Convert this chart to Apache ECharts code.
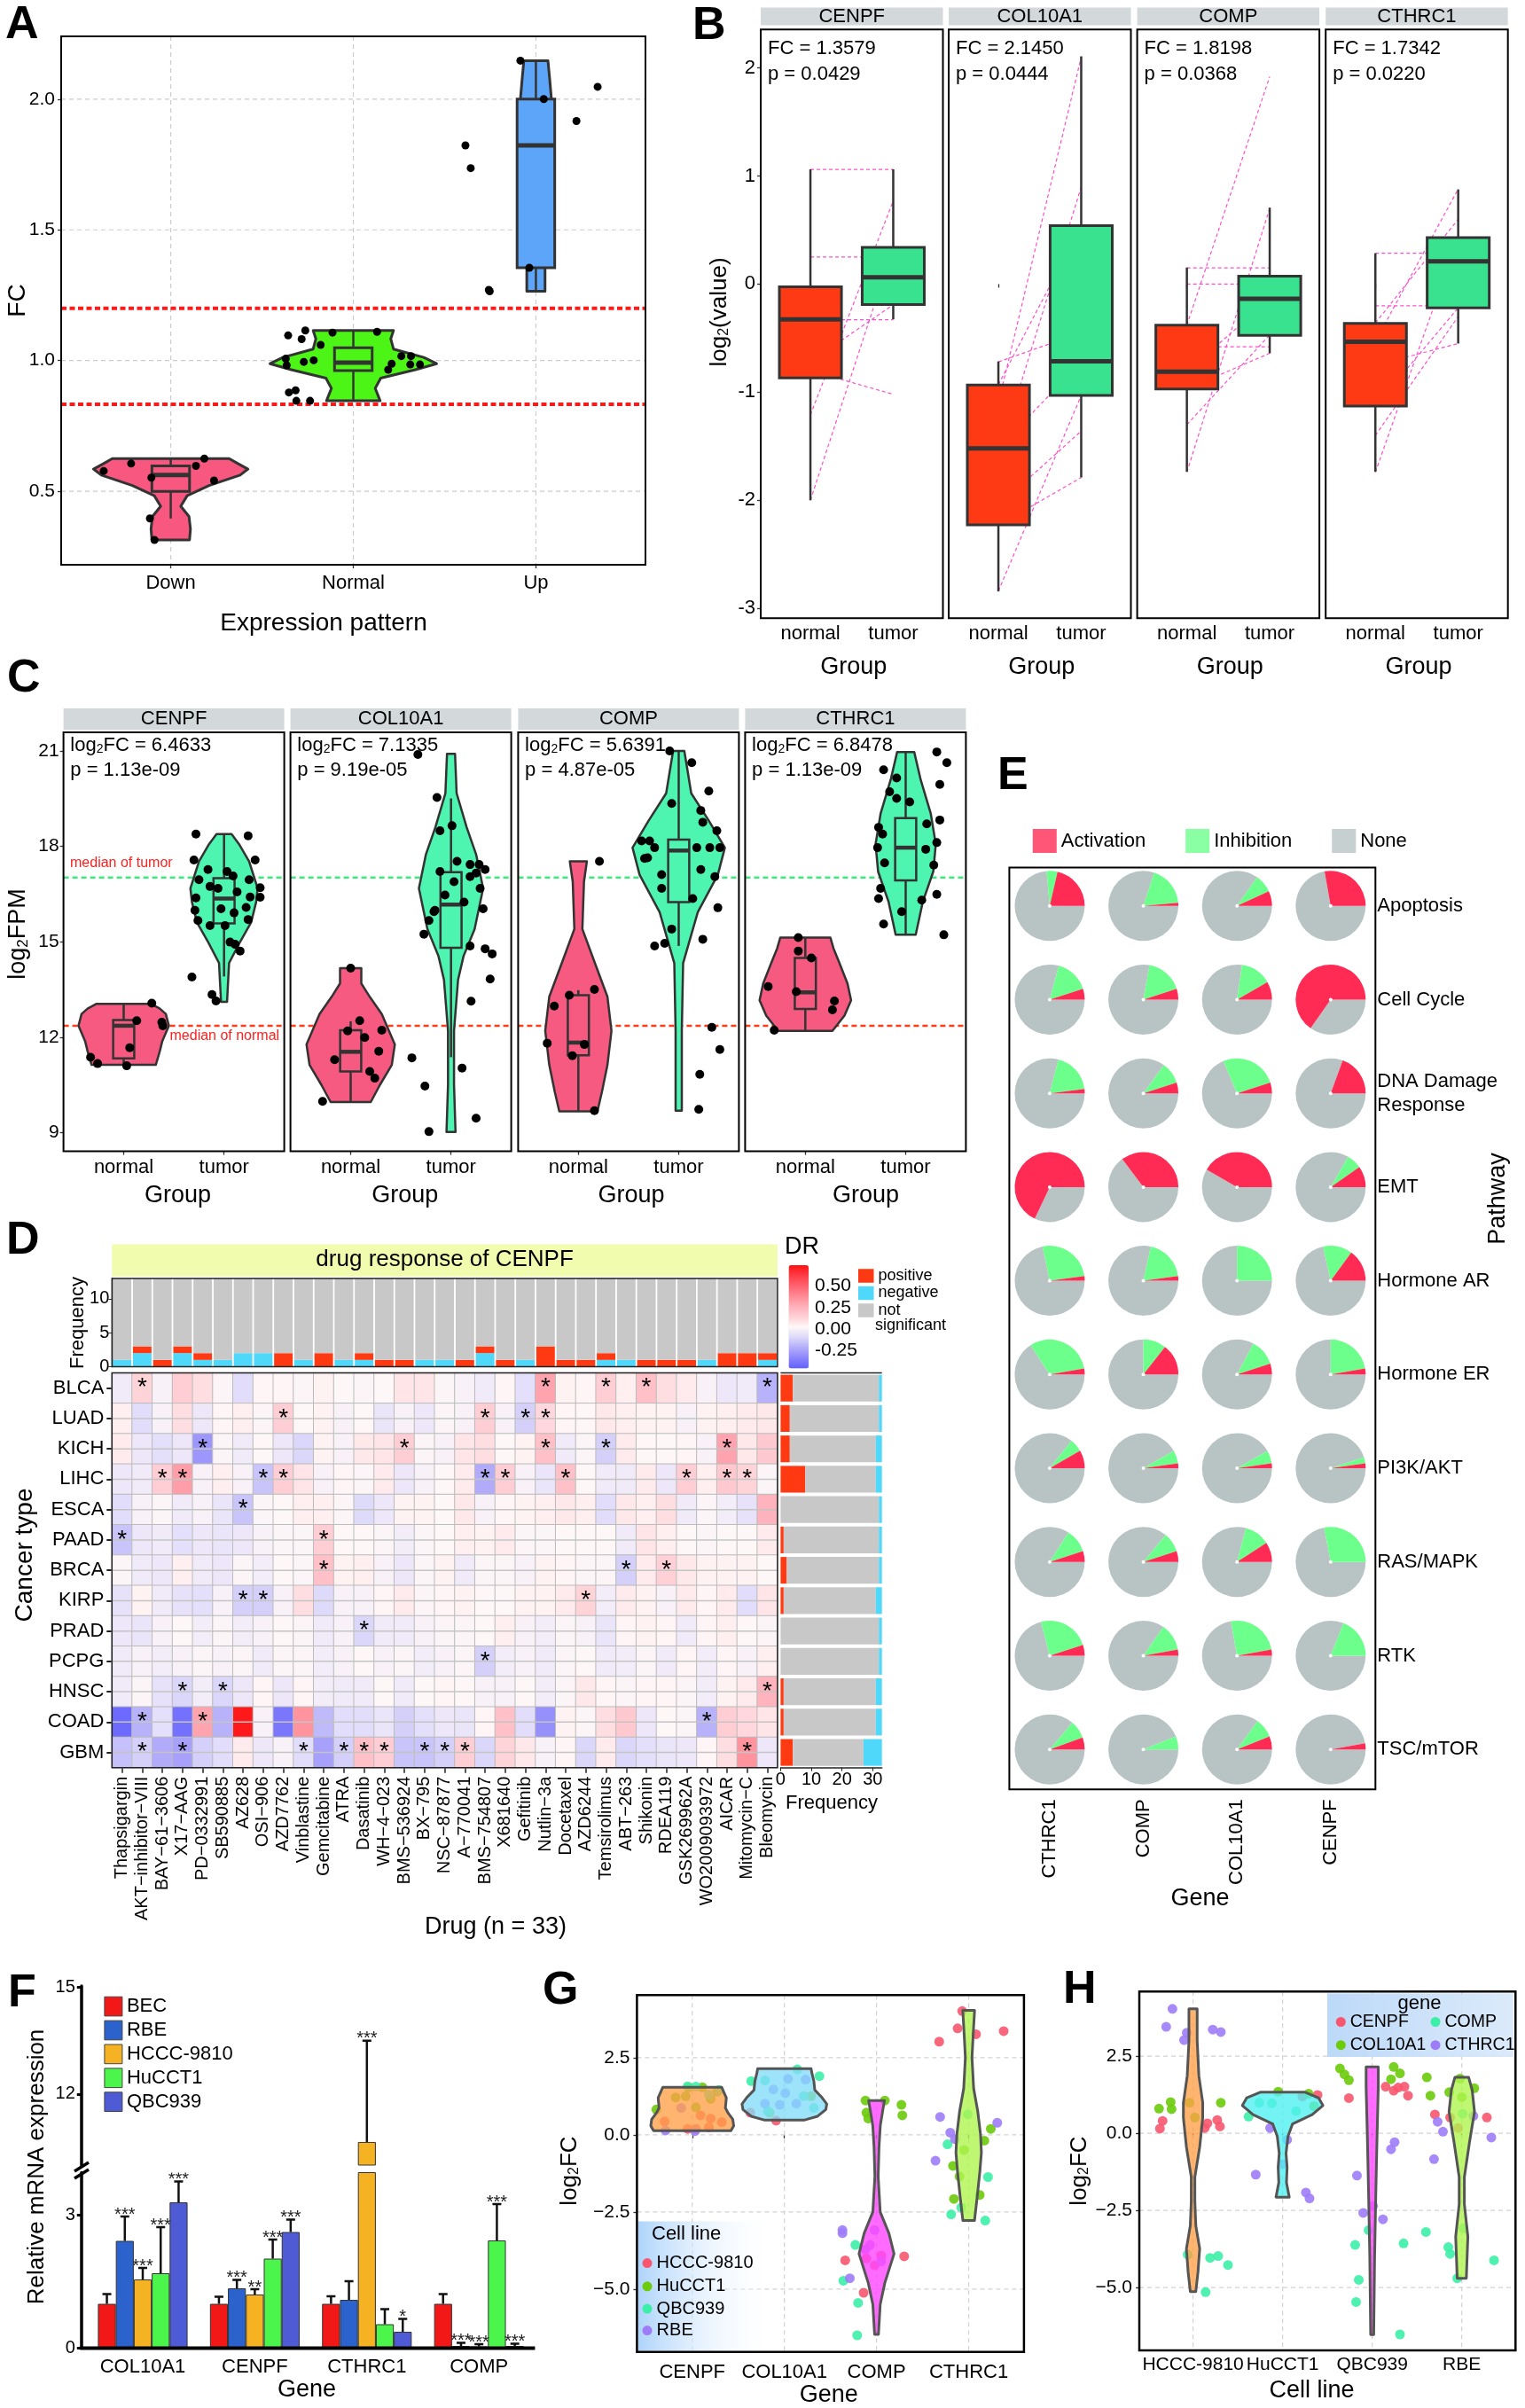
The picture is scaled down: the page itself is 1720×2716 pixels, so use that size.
<!DOCTYPE html>
<html><head><meta charset="utf-8">
<script src="https://cdn.jsdelivr.net/npm/echarts@6/dist/echarts.min.js"></script>
<style>html,body{margin:0;padding:0;background:#fff}#c{width:1720px;height:2716px}</style>
</head><body><div id="c"></div>
<script>
const FONT='"Liberation Sans", Arial, Helvetica, sans-serif';
// ================= DATA =================
// ---- Panel A ----
const A_categories=['Down','Normal','Up'];
const A_yTicks=[0.5,1.0,1.5,2.0];
const A_thresholds=[1.2,0.833];
const A_box=[[0.396,0.50,0.562,0.597,0.625],[0.846,0.962,0.992,1.049,1.115],[1.265,1.355,1.823,2.0,2.147]];
const A_violinDown=[[0.314,0.103],[0.356,0.108],[0.404,0.1],[0.443,0.055],[0.483,0.09],[0.522,0.21],[0.562,0.38],[0.585,0.423],[0.605,0.37],[0.625,0.32]];
const A_violinNormal=[[0.846,0.147],[0.894,0.12],[0.933,0.15],[0.965,0.34],[0.988,0.456],[1.012,0.386],[1.044,0.22],[1.083,0.205],[1.115,0.22]];
const A_violinUp=[[1.265,0.05],[1.352,0.05],[1.6,0.07],[1.9,0.085],[2.0,0.085],[2.08,0.075],[2.147,0.066]];
const A_ptsDown=[[0.633,0.578],[0.783,0.606],[0.894,0.552],[1.138,0.597],[1.184,0.625],[1.237,0.541],[0.886,0.396],[0.911,0.314]];
const A_ptsNormal=[[1.643,1.096],[1.737,1.115],[1.717,1.082],[1.821,1.060],[1.886,1.107],[2.130,1.110],[1.630,1.007],[1.635,0.982],[1.729,0.995],[1.783,1.001],[2.263,1.017],[2.316,1.017],[2.210,0.988],[2.312,0.985],[2.365,0.985],[2.191,0.965],[1.647,0.878],[1.684,0.886],[1.688,0.846],[1.763,0.846]];
const A_ptsUp=[[2.915,2.147],[3.043,2.0],[3.338,2.047],[3.222,1.916],[2.614,1.823],[2.643,1.736],[2.742,1.270],[2.747,1.265],[2.964,1.355]];
// ---- Panel B ----
const B_genes=['CENPF','COL10A1','COMP','CTHRC1'];
const B_groups=['normal','tumor'];
const B_FC=['1.3579','2.1450','1.8198','1.7342'];
const B_P=['0.0429','0.0444','0.0368','0.0220'];
const B_yTicks=[-3,-2,-1,0,1,2];
const B_boxNormal=[[-2.0,-0.868,-0.326,-0.025,1.062],[-2.843,-2.227,-1.52,-0.934,-0.715],[-1.736,-0.971,-0.81,-0.38,0.153],[-1.736,-1.128,-0.533,-0.364,0.285]];
const B_boxTumor=[[-0.326,-0.19,0.062,0.339,1.062],[-1.789,-1.029,-0.715,0.541,2.107],[-0.64,-0.475,-0.136,0.074,0.707],[-0.55,-0.219,0.211,0.43,0.876]];
const B_pairNormal=[[1.06,0.25,-0.33,-0.8,-1.21,-2.0,-0.72],[-0.72,-0.93,-1.52,-2.23,-2.84,-1.1,-2.05,-1.6],[0.15,0.0,-0.38,-0.58,-0.81,-1.74,-0.97,-1.3],[0.285,-0.2,-0.53,-0.36,-1.13,-1.74,-0.75,-1.4]];
const B_pairTumor=[[1.06,0.25,-0.33,-1.02,0.77,0.34,-0.19],[-0.45,0.54,-0.72,-1.79,-1.03,2.1,-1.36,0.9],[0.15,0.0,1.92,-0.58,-0.14,0.7,-0.64,-0.47],[0.285,-0.2,0.88,0.6,-0.22,0.43,-0.55,-0.3]];
// ---- Panel C ----
const C_genes=['CENPF','COL10A1','COMP','CTHRC1'];
const C_groups=['normal','tumor'];
const C_log2FC=['6.4633','7.1335','5.6391','6.8478'];
const C_P=['1.13e-09','9.19e-05','4.87e-05','1.13e-09'];
const C_yTicks=[9,12,15,18,21];
const C_medianTumor=17.02, C_medianNormal=12.36;
const C_boxNormal=[[11.13,11.33,12.36,12.54,13.05],[9.96,10.92,11.54,12.22,12.5],[9.67,11.43,11.83,13.32,13.48],[12.2,12.89,13.41,14.49,15.13]];
const C_boxTumor=[[13.91,15.58,16.36,17.0,18.39],[11.37,14.81,16.17,17.19,19.51],[14.87,16.25,17.87,18.21,21.0],[15.22,16.93,17.96,18.89,20.97]];
const C_violinNormal=[
 [[11.13,0.32],[11.56,0.36],[11.88,0.385],[12.36,0.45],[12.73,0.42],[12.9,0.36],[13.05,0.27]],
 [[9.96,0.2],[10.49,0.29],[11.13,0.41],[11.77,0.44],[12.73,0.31],[13.27,0.19],[13.69,0.106],[14.17,0.106]],
 [[9.67,0.19],[10.28,0.235],[11.13,0.29],[12.2,0.33],[13.27,0.29],[14.33,0.165],[15.4,0.04],[16.89,0.056],[17.53,0.085]],
 [[12.2,0.27],[12.68,0.39],[13.16,0.456],[13.69,0.42],[14.33,0.34],[14.8,0.28],[15.13,0.25]]];
const C_violinTumor=[
 [[13.11,0.03],[14.33,0.05],[14.97,0.155],[15.61,0.27],[16.25,0.32],[16.68,0.335],[17.53,0.25],[18.07,0.15],[18.39,0.075]],
 [[9.02,0.045],[10.5,0.03],[12.2,0.03],[13.8,0.07],[14.55,0.125],[15.4,0.235],[16.68,0.32],[17.75,0.25],[18.6,0.156],[19.67,0.056],[20.91,0.04]],
 [[9.69,0.031],[12.2,0.031],[14.33,0.044],[15.93,0.19],[17.11,0.39],[17.96,0.46],[18.81,0.3],[19.67,0.125],[21.0,0.056]],
 [[15.22,0.1],[16.25,0.17],[17.21,0.275],[18.07,0.3],[19.03,0.25],[20.09,0.15],[20.97,0.085]]];
const C_ptsNormal=[
 [[1.28,13.07],[1.13,12.52],[1.38,12.47],[1.39,12.36],[0.67,11.37],[0.74,11.17],[1.03,11.1],[1.06,11.67]],
 [[1.0,14.17],[1.09,12.52],[1.31,12.22],[1.14,11.99],[0.84,11.29],[1.28,11.56],[1.19,10.92],[1.24,10.71],[0.72,9.98],[0.97,12.2]],
 [[1.21,17.53],[1.16,13.5],[0.91,13.32],[0.76,12.98],[0.69,11.81],[0.94,11.42],[1.16,9.69],[1.06,11.77]],
 [[0.93,15.13],[0.93,14.71],[1.06,14.49],[0.63,13.59],[0.91,13.43],[1.29,13.14],[1.27,12.86],[0.69,12.22]]];
const C_ptsTumor=[
 [[1.72,18.39],[2.24,18.33],[1.7,17.57],[2.31,17.57],[1.84,17.27],[2.03,17.21],[2.09,17.07],[1.75,16.95],[2.25,16.95],[1.86,16.74],[1.94,16.68],[2.13,16.57],[2.36,16.7],[2.26,16.41],[1.72,16.38],[2.36,16.4],[1.97,16.04],[2.22,16.08],[1.71,15.99],[2.1,15.91],[2.24,15.7],[1.74,15.67],[1.86,15.51],[2.06,14.99],[2.11,14.92],[2.16,14.71],[1.68,13.89],[1.88,13.34],[1.92,13.14],[2.01,15.51]],
 [[1.67,20.89],[1.86,19.54],[1.89,18.49],[2.01,18.65],[2.06,17.53],[2.19,17.43],[2.28,17.43],[2.34,17.27],[1.89,17.21],[2.25,17.16],[2.19,17.05],[2.29,16.68],[1.84,15.99],[1.78,15.67],[2.32,16.04],[1.73,15.24],[1.83,15.95],[2.19,14.87],[2.34,14.78],[2.41,14.62],[2.39,13.83],[2.2,13.13],[1.61,11.35],[2.11,11.03],[1.74,10.46],[2.25,9.45],[1.78,9.03],[2.03,16.89],[2.13,16.25],[1.94,16.47]],
 [[1.91,21.0],[2.13,20.63],[2.3,19.74],[1.93,19.35],[2.22,19.13],[2.24,18.76],[2.38,18.49],[1.63,18.17],[1.71,18.17],[1.76,17.96],[2.31,17.96],[2.41,17.96],[2.18,17.96],[1.66,17.62],[1.69,17.64],[2.36,17.05],[2.22,17.27],[1.83,17.11],[1.83,16.68],[2.14,16.36],[2.39,16.07],[1.93,15.4],[1.76,14.87],[1.86,14.95],[2.24,15.08],[2.33,12.31],[2.41,11.61],[2.21,10.83],[2.2,9.73]],
 [[1.78,20.41],[2.31,20.97],[2.41,20.63],[2.34,19.95],[1.91,20.15],[1.84,19.72],[1.91,19.51],[2.04,19.4],[2.34,18.83],[1.73,18.6],[1.77,18.39],[2.21,18.71],[1.72,17.96],[2.31,18.12],[2.2,17.91],[1.79,17.48],[2.28,17.41],[1.75,16.68],[1.73,16.36],[2.16,16.31],[2.31,16.49],[1.96,15.95],[1.78,15.56],[2.38,15.22]]];
// ---- Panel D ----
const D_drugs=['Thapsigargin','AKT\u2212inhibitor\u2212VIII','BAY\u221261\u22123606','X17\u2212AAG','PD\u22120332991','SB590885','AZ628','OSI\u2212906','AZD7762','Vinblastine','Gemcitabine','ATRA','Dasatinib','WH\u22124\u2212023','BMS\u2212536924','BX\u2212795','NSC\u221287877','A\u2212770041','BMS\u2212754807','X681640','Gefitinib','Nutlin\u22123a','Docetaxel','AZD6244','Temsirolimus','ABT\u2212263','Shikonin','RDEA119','GSK269962A','WO2009093972','AICAR','Mitomycin\u2212C','Bleomycin'];
const D_cancers=['BLCA','LUAD','KICH','LIHC','ESCA','PAAD','BRCA','KIRP','PRAD','PCPG','HNSC','COAD','GBM'];
const D_DR=[
 [-0.03,0.13,0,0.15,0.1,0.01,-0.08,0.03,0.03,0.01,0.04,0.02,0.01,0.02,0.08,0.08,0.01,0,-0.03,0.03,-0.07,0.3,0.04,0.03,0.15,0.05,0.2,0.1,0.06,0,-0.04,-0.03,-0.2],
 [0.05,-0.08,0,0.1,-0.04,0.03,0.05,0.01,0.15,0.02,0.04,0,0.02,-0.05,0,-0.04,0.01,0,0.15,0,-0.12,0.12,0.03,0.02,0.07,0.05,0.04,0.04,0,0.04,0.05,0.06,0.07],
 [0.06,-0.04,-0.07,-0.04,-0.28,0.01,-0.03,0.02,-0.04,-0.1,0.04,0,0.07,0.08,0.15,0.01,0,0.08,0.1,0.02,0.04,0.2,-0.03,0.01,-0.12,0.06,0.02,0.02,0.03,0,0.3,0.07,0.17],
 [-0.04,-0.03,0.15,0.32,0,0.05,0,-0.15,0.15,0.08,0,0.03,0.01,0.06,-0.04,0,0.02,0.06,-0.22,0.15,0,-0.05,0.2,0.02,-0.03,-0.03,0.06,-0.04,0.15,0.05,0.17,0.13,0.01],
 [-0.08,0,0.01,-0.03,0,-0.05,-0.15,0.01,0.02,0.05,0.05,0.01,-0.09,-0.04,0.04,0.04,0.02,0.07,0,0.03,0.04,0.05,0.07,0.05,-0.08,0.07,0.05,0.1,-0.03,0.01,-0.02,-0.06,0.25],
 [-0.15,-0.04,-0.03,-0.07,-0.04,-0.05,-0.04,0,0.01,0.01,0.15,0.02,0.02,0.01,-0.02,0.01,0.02,0.05,0.04,0.06,0.01,0.01,0.02,0.02,0.02,-0.03,0.08,0.05,0.02,0.01,0.02,0.02,0.06],
 [0.01,-0.03,-0.04,0.05,-0.03,-0.04,0.01,-0.02,0.02,0.01,0.2,0.04,0.05,0,-0.04,0.01,0.04,-0.03,0.01,0.01,0,0.04,0.03,0.01,0.01,-0.12,0.06,0.14,0.07,0.04,0.04,0.04,0.02],
 [-0.06,0.04,-0.03,-0.06,-0.07,0,-0.12,-0.12,0,0.1,-0.09,0,0,0.03,0.06,0.01,0.03,0.04,0.02,0.02,0.04,0.04,0.06,0.13,-0.02,0.06,0.04,0,0.06,0.03,0.06,-0.08,0.08],
 [-0.04,-0.05,0,0.02,-0.02,0.01,-0.02,0,0.02,0.01,-0.03,0,-0.1,-0.03,-0.03,0,0.01,0.01,0.02,0.05,0,-0.02,0.01,0,-0.05,0.03,0.04,0.03,-0.03,0.03,0.05,0.02,0.01],
 [-0.03,0,-0.02,0,0.01,0,0.01,-0.03,0.01,0.01,-0.02,0,0.02,0,0.01,-0.02,0,0.01,-0.12,-0.02,0,-0.03,0.01,0.02,-0.03,-0.02,0.01,-0.03,0.03,-0.02,0.03,0,0.05],
 [-0.03,0.01,-0.06,-0.1,-0.02,-0.1,-0.04,0.03,-0.04,0.03,-0.02,-0.03,-0.03,0.02,-0.03,0.02,0.03,0.02,0,0,0.02,-0.02,0.01,0.07,0.03,0.01,0.03,0.03,0.01,-0.02,0.04,0.06,0.25],
 [-0.42,-0.2,-0.07,-0.4,0.3,-0.2,0.72,0,-0.38,0.35,-0.18,-0.08,-0.08,-0.05,-0.12,-0.07,-0.04,-0.05,0.03,0.2,-0.08,-0.3,0.04,0.01,0.1,0.17,-0.04,0.02,0.01,-0.2,0.15,0.12,0.08],
 [-0.16,-0.12,-0.22,-0.25,-0.12,-0.08,0.06,-0.04,0,-0.08,-0.25,-0.12,0.2,0.15,-0.15,-0.15,-0.12,0.15,-0.1,0.13,0.07,0,0.03,-0.1,0.06,-0.1,-0.07,-0.05,-0.04,0.03,0.1,0.35,-0.04]];
const D_sigDrugs=[[1,21,24,26,32],[8,18,20,21],[4,14,21,24,30],[2,3,7,8,18,19,22,28,30,31],[6],[0,10],[10,25,27],[6,7,23],[12],[18],[3,5,32],[1,4,29],[1,3,9,11,12,13,15,16,17,31]];
const D_posByDrug=[0,1,1,1,1,0,0,0,2,0,2,0,1,1,1,0,0,1,1,1,0,3,1,1,1,0,1,1,1,0,2,2,1];
const D_negByDrug=[1,2,0,2,1,1,2,2,0,1,0,1,1,0,0,1,1,0,2,0,1,0,0,0,1,1,0,0,0,1,0,0,1];
const D_posByCancer=[4,3,3,8,0,1,2,1,0,0,1,1,4];
const D_negByCancer=[1,1,2,2,1,1,1,2,1,1,2,2,6];
const D_nCancer=13, D_nDrug=33;
const D_freqTicks=[0,5,10];
const D_drTicks=[-0.25,0,0.25,0.5];
// ---- Panel E ----
const E_genes=['CTHRC1','COMP','COL10A1','CENPF'];
const E_pathways=['Apoptosis','Cell Cycle','DNA Damage\nResponse','EMT','Hormone AR','Hormone ER','PI3K/AKT','RAS/MAPK','RTK','TSC/mTOR'];
const E_activation=[[0.214,0.014,0.069,0.278],[0.05,0.05,0.083,0.653],[0.02,0.05,0.05,0.194],[0.68,0.353,0.417,0.097],[0.022,0.022,0,0.15],[0.028,0.144,0.05,0.028],[0.083,0.022,0.022,0.022],[0.05,0.05,0.092,0],[0.05,0.028,0.028,0],[0.055,0,0.06,0.028]];
const E_inhibition=[[0.05,0.186,0.083,0],[0.158,0.172,0.144,0],[0.19,0.10,0.264,0],[0,0,0,0.07],[0.261,0.194,0.25,0.135],[0.314,0.106,0.122,0.222],[0.06,0.06,0.06,0.028],[0.11,0.09,0.117,0.28],[0.24,0.125,0.25,0.19],[0.083,0.06,0.09,0]];
// ---- Panel F ----
const F_genes=['COL10A1','CENPF','CTHRC1','COMP'];
const F_lines=['BEC','RBE','HCCC-9810','HuCCT1','QBC939'];
const F_mean=[[1.0,1.0,1.0,1.0],[2.42,1.35,1.09,0.05],[1.55,1.21,10.65,0.04],[1.69,2.02,0.54,2.43],[3.29,2.62,0.37,0.05]];
const F_sd=[[0.22,0.16,0.17,0.22],[0.55,0.19,0.42,0.07],[0.26,0.12,2.85,0.05],[1.04,0.43,0.34,0.82],[0.47,0.28,0.29,0.05]];
const F_sig=[['','','',''],['***','***','','***'],['***','**','***','***'],['***','***','','***'],['***','***','*','***']];
// ---- Panel G ----
const G_genes=['CENPF','COL10A1','COMP','CTHRC1'];
const G_cellLines=['HCCC-9810','HuCCT1','QBC939','RBE'];
const GH_yTicks=[-5,-2.5,0,2.5];
const G_violins=[
 [[0.13,0.42],[0.29,0.45],[0.5,0.44],[0.7,0.39],[0.87,0.36],[1.2,0.37],[1.4,0.34],[1.54,0.32]],
 [[0.48,0.22],[0.6,0.36],[0.82,0.45],[1.0,0.46],[1.2,0.41],[1.45,0.33],[1.74,0.32],[1.98,0.3],[2.14,0.29]],
 [[-6.47,0.021],[-5.5,0.04],[-4.8,0.09],[-3.86,0.19],[-3.2,0.135],[-2.5,0.04],[-1.35,0.018],[-0.4,0.027],[0.3,0.041],[0.8,0.068],[1.11,0.086]],
 [[-2.78,0.063],[-2.0,0.093],[-1.2,0.121],[-0.58,0.138],[0.0,0.129],[0.77,0.098],[1.5,0.054],[2.5,0.036],[3.2,0.048],[4.03,0.064]]];
const G_pts=[
 [[0.7,0.43],[0.95,0.19],[1.04,0.19],[1.18,0.24],[1.32,0.41],[1.09,0.63],[1.2,0.53],[1.63,0.72],[1.91,0.46],[2.66,-4.07],[2.89,-4.01],[2.98,-4.23],[3.05,-3.91],[3.3,-3.94],[2.86,-5.12],[3.93,4.01],[3.88,3.45],[4.08,3.26],[4.38,3.36],[3.68,3.02]],
 [[0.61,0.82],[0.82,1.21],[0.93,1.25],[1.04,0.89],[1.2,1.16],[0.96,1.54],[1.11,1.54],[1.27,1.4],[1.84,0.72],[2.29,1.25],[2.88,1.11],[3.09,1.11],[3.27,0.97],[3.28,0.63],[2.89,0.72],[2.91,0.53],[4.24,0.19],[4.17,-0.19],[3.95,-0.5],[3.83,-1.01],[3.9,-1.35],[3.84,-2.08],[4.12,-1.95]],
 [[0.95,1.57],[1.04,1.56],[1.29,1.45],[1.18,1.3],[1.64,1.74],[1.79,1.76],[2.14,2.12],[2.38,1.9],[2.21,1.25],[2.32,0.87],[1.82,0.77],[2.77,-3.57],[2.64,-4.73],[2.8,-5.45],[2.79,-6.5],[3.99,0.66],[3.77,-0.31],[4.21,-1.37],[3.92,-2.36],[3.81,-2.58],[4.18,-2.78]],
 [[0.71,0.14],[1.03,0.12],[0.88,0.87],[1.88,1.47],[2.01,1.35],[2.04,1.81],[2.23,1.79],[1.95,0.97],[2.13,1.01],[1.79,1.01],[2.63,-3.09],[2.63,-3.19],[2.98,-3.09],[2.93,-3.57],[3.05,-4.1],[2.71,-4.65],[2.88,-3.72],[3.69,0.58],[3.8,0.07],[3.85,-0.14],[3.64,-0.84],[4.31,0.39]]];
// ---- Panel H ----
const H_cellLines=['HCCC-9810','HuCCT1','QBC939','RBE'];
const H_genes=['CENPF','COL10A1','COMP','CTHRC1'];
const H_violins=[
 [[-5.13,0.031],[-4.5,0.055],[-3.74,0.074],[-3.0,0.031],[-2.2,0.02],[-1.42,0.02],[-0.45,0.074],[0.5,0.108],[0.99,0.108],[1.86,0.065],[3.0,0.046],[4.03,0.046]],
 [[-2.07,0.074],[-1.6,0.043],[-1.1,0.05],[-0.65,0.038],[-0.1,0.06],[0.3,0.11],[0.6,0.33],[0.9,0.45],[1.15,0.4],[1.33,0.25]],
 [[-6.53,0.017],[-4.0,0.027],[-2.0,0.04],[0.0,0.055],[1.5,0.068],[2.15,0.068]],
 [[-4.7,0.051],[-3.35,0.068],[-2.3,0.029],[-1.42,0.029],[-0.3,0.086],[0.7,0.142],[1.4,0.116],[1.81,0.077]]];
const H_pts=[
 [[0.66,0.4],[0.63,0.15],[1.13,0.17],[1.16,0.32],[1.27,0.43],[1.3,0.22],[2.39,1.24],[2.22,1.19],[2.74,1.14],[3.15,1.51],[3.24,1.38],[3.36,1.51],[3.4,1.22],[3.29,1.48],[3.7,0.61],[3.87,0.51],[3.96,0.17],[4.28,0.51]],
 [[0.62,0.8],[0.75,1.01],[0.76,0.78],[1.31,0.99],[0.96,0.99],[1.02,0.51],[1.95,1.35],[2.29,1.28],[2.35,0.88],[2.64,2.1],[2.69,1.91],[2.74,1.72],[3.24,2.15],[3.31,1.94],[3.21,1.75],[3.61,1.81],[3.65,1.22],[3.86,1.33],[4.0,1.17],[4.14,1.46],[3.98,1.77]],
 [[0.94,-3.93],[1.19,-4.04],[1.28,-3.98],[1.39,-4.27],[1.14,-5.15],[1.62,0.54],[1.74,0.99],[2.15,0.72],[1.88,0.97],[2.96,-3.14],[2.81,-3.62],[3.35,-3.57],[2.85,-4.75],[2.82,-5.47],[3.31,-6.52],[4.01,0.63],[3.6,-3.2],[4.02,-3.08],[3.85,-3.69],[3.87,-3.91],[4.36,-4.12],[3.95,-4.7]],
 [[0.77,4.03],[0.7,3.45],[0.93,3.26],[0.9,3.02],[1.22,3.36],[1.31,3.28],[1.86,0.17],[2.05,-0.21],[2.0,-1.0],[1.7,-1.34],[2.26,-1.92],[2.3,-2.11],[3.25,-0.29],[3.21,-0.52],[2.83,-1.37],[3.01,-2.36],[2.9,-2.58],[3.12,-2.79],[3.73,0.37],[3.79,0.05],[3.69,-0.84],[4.13,0.56],[4.33,-0.14]]];

// ================= HELPERS =================
const grids=[],xAxes=[],yAxes=[],series=[],graphic=[];
function addGrid(l,t,w,h,xa,ya){const i=grids.length;grids.push({left:l,top:t,width:w,height:h,containLabel:false});
 xAxes.push(Object.assign({gridIndex:i},xa));yAxes.push(Object.assign({gridIndex:i},ya));return i;}
function near(arr,v){let b=0;for(let i=1;i<arr.length;i++)if(Math.abs(arr[i]-v)<Math.abs(arr[b]-v))b=i;return b;}
function discAxis(min,max,ticks,labels,o){o=o||{};return {type:'value',min:min,max:max,inverse:!!o.inverse,position:o.position,
 axisLine:{show:false},splitLine:{show:false},
 axisTick:{show:o.tick!==false,customValues:ticks,length:o.tickLen||4,lineStyle:{color:'#333',width:1.3}},
 axisLabel:{show:o.label!==false,customValues:ticks,formatter:function(v){return labels[near(ticks,v)];},fontSize:o.fs||22,color:'#000',fontFamily:FONT,margin:(o.margin==null?6:o.margin),rotate:o.rotate||0,align:o.align,lineHeight:o.lh,
  showMinLabel:true,showMaxLabel:true,hideOverlap:false}};}
function hidAxis(min,max){return {type:'value',min:min,max:max,show:false,splitLine:{show:false}};}
function frame(l,t,w,h,lw,color){graphic.push({type:'rect',silent:true,z:100,shape:{x:l,y:t,width:w,height:h},style:{fill:'none',stroke:color||'#000',lineWidth:lw||2}});}
function rect(l,t,w,h,fill,z){graphic.push({type:'rect',silent:true,z:z||0,shape:{x:l,y:t,width:w,height:h},style:{fill:fill}});}
function T(x,y,text,fs,o){o=o||{};graphic.push({type:'text',x:x,y:y,rotation:o.rot||0,z:o.z||110,silent:true,
 style:{text:text,fontSize:fs,fontFamily:FONT,fontWeight:o.bold?'bold':'normal',fill:o.color||'#000',
 align:o.align||'center',verticalAlign:o.va||'middle',textAlign:o.align||'center',textVerticalAlign:o.va||'middle',rich:o.rich}});}
function subRich(fs){return {a:{fontSize:fs,fontFamily:FONT,fill:'#000',color:'#000'},b:{fontSize:Math.round(fs*0.62),fontFamily:FONT,fill:'#000',color:'#000',verticalAlign:'bottom'}};}
function addLines(gi,dir,vals,style,z,ext){
 series.push({type:'custom',xAxisIndex:gi,yAxisIndex:gi,silent:true,z:z||1,clip:false,data:vals.map(function(v){return [v,v];}),
  renderItem:function(p,api){const cs=p.coordSys;const c=api.coord([api.value(0),api.value(1)]);const e=ext||[0,0];
   if(dir==='h')return {type:'line',shape:{x1:cs.x-e[0],y1:c[1],x2:cs.x+cs.width+e[1],y2:c[1]},style:style};
   return {type:'line',shape:{x1:c[0],y1:cs.y,x2:c[0],y2:cs.y+cs.height},style:style};}});}
function addViolin(gi,xc,prof,fill,stroke,lw,z){
 series.push({type:'custom',xAxisIndex:gi,yAxisIndex:gi,silent:true,z:z||3,clip:false,data:[[xc,prof[0][0]]],
  renderItem:function(p,api){const pts=[];prof.forEach(function(q){pts.push(api.coord([xc+q[1],q[0]]));});
   for(let i=prof.length-1;i>=0;i--)pts.push(api.coord([xc-prof[i][1],prof[i][0]]));
   return {type:'polygon',shape:{points:pts},style:{fill:fill,stroke:stroke,lineWidth:lw,lineJoin:'round'}};}});}
function addBox(gi,xc,st,hw,fill,o){o=o||{};const sc=o.stroke||'#333';
 series.push({type:'custom',xAxisIndex:gi,yAxisIndex:gi,silent:true,z:o.z||4,clip:false,data:[[xc,st[2]]],
  renderItem:function(p,api){const lo=api.coord([xc,st[0]]),q1=api.coord([xc,st[1]]),q3=api.coord([xc,st[3]]),hi=api.coord([xc,st[4]]);
   const L=api.coord([xc-hw,st[3]]),R=api.coord([xc+hw,st[1]]),mL=api.coord([xc-hw,st[2]]),mR=api.coord([xc+hw,st[2]]);
   return {type:'group',children:[
    {type:'line',shape:{x1:lo[0],y1:lo[1],x2:q1[0],y2:q1[1]},style:{stroke:sc,lineWidth:o.wl||2}},
    {type:'line',shape:{x1:q3[0],y1:q3[1],x2:hi[0],y2:hi[1]},style:{stroke:sc,lineWidth:o.wl||2}},
    {type:'rect',shape:{x:L[0],y:L[1],width:R[0]-L[0],height:R[1]-L[1]},style:{fill:fill,stroke:sc,lineWidth:o.bl||3}},
    {type:'line',shape:{x1:mL[0],y1:mL[1],x2:mR[0],y2:mR[1]},style:{stroke:sc,lineWidth:o.ml||5}}]};}});}
function addPts(gi,pts,color,size,z,op){series.push({type:'scatter',xAxisIndex:gi,yAxisIndex:gi,data:pts,symbolSize:size,silent:true,z:z||6,itemStyle:{color:color,opacity:op==null?1:op}});}

// ================= PANEL A =================
(function(){
 const g=addGrid(69,41,659,596,discAxis(0.4,3.6,[1,2,3],A_categories,{fs:22,margin:10}),
  discAxis(0.219,2.24,A_yTicks,A_yTicks.map(function(v){return v.toFixed(1);}),{fs:21,margin:7}));
 const gl={stroke:'#cccccc',lineWidth:1.2,lineDash:[5,4]};
 addLines(g,'h',A_yTicks,gl,1);addLines(g,'v',[1,2,3],gl,1);
 addLines(g,'h',A_thresholds,{stroke:'#ff1a1a',lineWidth:4,lineDash:[6,3.5]},5);
 const cols=['#F8577F','#4CF516','#5DA5F8'];
 addViolin(g,1,A_violinDown,cols[0],'#333',3);addViolin(g,2,A_violinNormal,cols[1],'#333',3);addViolin(g,3,A_violinUp,cols[2],'#333',3);
 A_box.forEach(function(b,i){addBox(g,i+1,b,0.103,cols[i],{wl:2.5,bl:3,ml:5});});
 addPts(g,A_ptsDown,'#000',9);addPts(g,A_ptsNormal,'#000',9);addPts(g,A_ptsUp,'#000',9);
 frame(69,41,659,596,2);
 T(20,339,'FC',28,{rot:Math.PI/2});T(365,703,'Expression pattern',28);
 T(6,3,'A',52,{bold:true,align:'left',va:'top'});
})();
// ================= PANEL B =================
(function(){
 const L=[858,1070,1282.6,1495.2],W=205.5,TOP=33.3,H=664;
 B_genes.forEach(function(gname,i){
  const l=L[i];
  const g=addGrid(l,TOP,W,H,discAxis(0.4,2.6,[1,2],B_groups,{fs:22,margin:7}),
   i===0?discAxis(-3.091,2.355,B_yTicks,B_yTicks.map(String),{fs:22,margin:6}):hidAxis(-3.091,2.355));
  const pairs=B_pairNormal[i].map(function(v,k){return [v,B_pairTumor[i][k]];});
  series.push({type:'custom',xAxisIndex:g,yAxisIndex:g,silent:true,z:2,clip:false,data:pairs,
   renderItem:function(p,api){const a=api.coord([1,api.value(0)]),b=api.coord([2,api.value(1)]);
    return {type:'line',shape:{x1:a[0],y1:a[1],x2:b[0],y2:b[1]},style:{stroke:'#FF4FC8',lineWidth:1.2,lineDash:[4,3]}};}});
  addBox(g,1,B_boxNormal[i],0.375,'#FE3A14',{wl:2.5,bl:3,ml:5});
  addBox(g,2,B_boxTumor[i],0.375,'#38E28E',{wl:2.5,bl:3,ml:5});
  frame(l,TOP,W,H,2);
  rect(l,8.6,W,19.8,'#D3D9DB');
  T(l+W/2,18.6,gname,22);
  T(l+8,55.4,'FC = '+B_FC[i],22,{align:'left'});T(l+8,84.1,'p = '+B_P[i],22,{align:'left'});
  T(l+W/2+2,753,'Group',27);
 });
 T(812,352,'{a|log}{b|2}{a|(value)}',26,{rot:Math.PI/2,rich:subRich(26)});
 T(781,4,'B',52,{bold:true,align:'left',va:'top'});
})();
// ================= PANEL C =================
(function(){
 const L=[71.6,327.6,584.4,840.4],W=249,TOP=825.9,H=472.7;
 const gx=[200.6,456.7,712,976.5];
 C_genes.forEach(function(gname,i){
  const l=L[i];
  const g=addGrid(l,TOP,W,H,discAxis(0.4,2.6,[1,2],C_groups,{fs:22,margin:7}),
   i===0?discAxis(8.41,21.59,C_yTicks,C_yTicks.map(String),{fs:21,margin:5}):hidAxis(8.41,21.59));
  addLines(g,'h',[C_medianTumor],{stroke:'#3DEB7A',lineWidth:2.5,lineDash:[6,4]},1);
  addLines(g,'h',[C_medianNormal],{stroke:'#FF3D1A',lineWidth:2.5,lineDash:[6,4]},1);
  addViolin(g,1,C_violinNormal[i],'#F65A80','#333',2.5);
  addViolin(g,2,C_violinTumor[i],'#4DF5B0','#333',2.5);
  addBox(g,1,C_boxNormal[i],0.105,'#F65A80',{wl:2.5,bl:2.5,ml:4.5});
  addBox(g,2,C_boxTumor[i],0.105,'#4DF5B0',{wl:2.5,bl:2.5,ml:4.5});
  addPts(g,C_ptsNormal[i],'#000',10);addPts(g,C_ptsTumor[i],'#000',10);
  frame(l,TOP,W,H,2);
  rect(l,799.1,W,24.1,'#D3D9DB');
  T(l+W/2,811.2,gname,22);
  T(l+7.7,841.2,'{a|log}{b|2}{a|FC = '+C_log2FC[i]+'}',22,{align:'left',rich:subRich(22)});
  T(l+7.7,868.8,'p = '+C_P[i],22,{align:'left'});
  T(gx[i],1348.3,'Group',27);
 });
 T(79,974,'median of tumor',16,{align:'left',color:'#FF2020'});
 T(191.5,1169,'median of normal',16,{align:'left',color:'#FF2020'});
 T(21,1053.6,'{a|log}{b|2}{a|FPM}',27,{rot:Math.PI/2,rich:subRich(27)});
 T(8,740,'C',52,{bold:true,align:'left',va:'top'});
})();
// ================= PANEL D =================
let hmSeriesIndex=0;
(function(){
 rect(126.3,1403.5,750.6,36.2,'#F1FCAE');
 T(501.6,1421.2,'drug response of CENPF',26);
 const catDrug={type:'category',data:D_drugs,show:false,boundaryGap:true};
 const gT=addGrid(126.3,1442,750.6,99.5,catDrug,{type:'value',min:0,max:D_nCancer,
  axisLine:{show:true,lineStyle:{color:'#333',width:1.5}},axisTick:{show:true,customValues:D_freqTicks,length:4,lineStyle:{color:'#333'}},
  axisLabel:{customValues:D_freqTicks,fontSize:20,color:'#000',fontFamily:FONT,margin:3,showMinLabel:true,showMaxLabel:true},splitLine:{show:false}});
 const notSigDrug=D_posByDrug.map(function(p,k){return D_nCancer-p-D_negByDrug[k];});
 const bs={type:'bar',xAxisIndex:gT,yAxisIndex:gT,stack:'top',barCategoryGap:'8%',silent:true,z:3};
 series.push(Object.assign({},bs,{name:'negative',data:D_negByDrug,itemStyle:{color:'#4FD8FA'}}));
 series.push(Object.assign({},bs,{name:'positive',data:D_posByDrug,itemStyle:{color:'#FF3A12'}}));
 series.push(Object.assign({},bs,{name:'not significant',data:notSigDrug,itemStyle:{color:'#C8C8C8'}}));
 frame(126.3,1442,750.6,99.5,1.5,'#222');
 T(87.7,1492,'Frequency',22,{rot:Math.PI/2});
 // heatmap
 const gH=addGrid(126.3,1548.6,750.6,445.1,
  {type:'category',data:D_drugs,boundaryGap:true,axisLine:{show:false},axisTick:{show:true,alignWithLabel:true,length:6,lineStyle:{color:'#222',width:1.5}},
   axisLabel:{interval:0,rotate:90,fontSize:20,color:'#000',fontFamily:FONT,margin:10},splitLine:{show:false}},
  {type:'category',data:D_cancers,inverse:true,boundaryGap:true,axisLine:{show:false},axisTick:{show:true,alignWithLabel:true,length:6,lineStyle:{color:'#222',width:2}},
   axisLabel:{interval:0,fontSize:22,color:'#000',fontFamily:FONT,margin:9},splitLine:{show:false}});
 const hm=[];D_DR.forEach(function(row,r){row.forEach(function(v,c){hm.push([c,r,v]);});});
 const sig=new Set();D_sigDrugs.forEach(function(arr,r){arr.forEach(function(c){sig.add(c+'_'+r);});});
 hmSeriesIndex=series.length;
 series.push({type:'heatmap',xAxisIndex:gH,yAxisIndex:gH,data:hm,silent:true,z:2,
  itemStyle:{borderColor:'#bbbbbb',borderWidth:1},
  label:{show:true,formatter:function(p){return sig.has(p.data[0]+'_'+p.data[1])?'*':'';},fontSize:28,color:'#000',fontFamily:FONT},
  emphasis:{disabled:true}});
 addLines(gH,'h',[0.5,1.5,2.5,3.5,4.5,5.5,6.5,7.5,8.5,9.5,10.5,11.5],{stroke:'#c4c4c4',lineWidth:1.5},5);
 frame(126.3,1548.6,750.6,445.1,1.5,'#222');
 // side bars
 const gS=addGrid(880.4,1548.6,114.3,445.1,{type:'value',min:0,max:D_nDrug,interval:10,
  axisLine:{show:true,lineStyle:{color:'#222',width:1.5}},axisTick:{show:true,length:4,lineStyle:{color:'#222'}},
  axisLabel:{fontSize:20,color:'#000',fontFamily:FONT,margin:4},splitLine:{show:false}},
  {type:'category',data:D_cancers,inverse:true,show:false,boundaryGap:true});
 const notSigC=D_posByCancer.map(function(p,k){return D_nDrug-p-D_negByCancer[k];});
 const ss={type:'bar',xAxisIndex:gS,yAxisIndex:gS,stack:'side',barCategoryGap:'12%',silent:true,z:3};
 series.push(Object.assign({},ss,{name:'positive',data:D_posByCancer,itemStyle:{color:'#FF3A12'}}));
 series.push(Object.assign({},ss,{name:'not significant',data:notSigC,itemStyle:{color:'#C8C8C8'}}));
 series.push(Object.assign({},ss,{name:'negative',data:D_negByCancer,itemStyle:{color:'#4FD8FA'}}));
 graphic.push({type:'line',silent:true,z:100,shape:{x1:880.4,y1:1548.6,x2:994.7,y2:1548.6},style:{stroke:'#222',lineWidth:1.5}});
 T(938,2034,'Frequency',22);
 T(559,2174,'Drug (n = 33)',27);
 T(28,1754,'Cancer type',28,{rot:Math.PI/2});
 // color bar axis
 const gC=addGrid(889.5,1427,22.5,116.5,hidAxis(0,1),{type:'value',min:-0.456,max:0.74,position:'right',
  axisLine:{show:false},axisTick:{show:false},splitLine:{show:false},
  axisLabel:{customValues:D_drTicks,formatter:function(v){return v.toFixed(2);},fontSize:21,color:'#000',fontFamily:FONT,margin:7}});
 series.push({type:'scatter',xAxisIndex:gC,yAxisIndex:gC,data:[],silent:true});
 T(885,1407,'DR',27,{align:'left'});
 T(987,1495,'significant',18,{align:'left'});
 T(7,1374,'D',52,{bold:true,align:'left',va:'top'});
})();
// ================= PANEL E =================
(function(){
 const g=addGrid(1138.4,978.4,412.9,1039.9,
  discAxis(-0.431,3.478,[0,1,2,3],E_genes,{tick:false,fs:22,margin:11,rotate:90}),
  discAxis(-0.41,9.427,[0,1,2,3,4,5,6,7,8,9],E_pathways,{inverse:true,position:'right',tick:false,fs:22,margin:2,align:'left',lh:27}));
 const items=[];
 E_pathways.forEach(function(pw,r){E_genes.forEach(function(gn,c){items.push([c,r,E_activation[r][c],E_inhibition[r][c]]);});});
 series.push({type:'custom',xAxisIndex:g,yAxisIndex:g,silent:true,z:3,clip:false,data:items,
  renderItem:function(p,api){const c=api.coord([api.value(0),api.value(1)]);const a=api.value(2),b=api.value(3);const r=39.5,TT=Math.PI*2;
   return {type:'group',children:[
    {type:'sector',shape:{cx:c[0],cy:c[1],r:r,r0:0,startAngle:-TT,endAngle:-TT*(a+b),clockwise:true},style:{fill:'#B8C4C4'}},
    {type:'sector',shape:{cx:c[0],cy:c[1],r:r,r0:0,startAngle:-TT*(a+b),endAngle:-TT*a,clockwise:true},style:{fill:'#6DFF8C'}},
    {type:'sector',shape:{cx:c[0],cy:c[1],r:r,r0:0,startAngle:-TT*a,endAngle:0,clockwise:true},style:{fill:'#FF2B55'}},
    {type:'circle',shape:{cx:c[0],cy:c[1],r:2},style:{fill:'#fff'}}]};}});
 ['Activation','Inhibition','None'].forEach(function(n,k){series.push({type:'scatter',name:n,xAxisIndex:g,yAxisIndex:g,data:[],itemStyle:{color:['#FF2B55','#6DFF8C','#B8C4C4'][k]}});});
 frame(1138.4,978.4,412.9,1039.9,2);
 T(1353.5,2142,'Gene',27);
 T(1690,1352,'Pathway',27,{rot:Math.PI/2});
 T(1125,850,'E',52,{bold:true,align:'left',va:'top'});
})();
// ================= PANEL F =================
(function(){
 const cols=['#F21818','#2B62CC','#F5B324','#4CF54C','#4F5AD5'];
 const xcat={type:'category',data:F_genes,boundaryGap:true,axisLine:{show:false},axisTick:{show:false},
  axisLabel:{fontSize:22,color:'#000',fontFamily:FONT,margin:10}};
 const yBase=function(min,max,ticks){return {type:'value',min:min,max:max,offset:6,splitLine:{show:false},
  axisLine:{show:true,lineStyle:{color:'#000',width:3.5}},
  axisTick:{show:true,customValues:ticks,length:5,lineStyle:{color:'#000',width:3}},
  axisLabel:{customValues:ticks,formatter:function(v){return String(Math.round(v));},fontSize:20,color:'#000',fontFamily:FONT,margin:7}};};
 const gL=addGrid(97.8,2450.5,505.6,198,xcat,yBase(0,3.96,[0,3]));
 const gU=addGrid(97.8,2240,505.6,202,{type:'category',data:F_genes,boundaryGap:true,show:false},yBase(10,15.04,[12,15]));
 F_lines.forEach(function(ln,i){
  const b={type:'bar',name:ln,barGap:'0%',barCategoryGap:'20%',silent:true,z:3,itemStyle:{color:cols[i],borderColor:'#333',borderWidth:1}};
  series.push(Object.assign({},b,{xAxisIndex:gL,yAxisIndex:gL,data:F_mean[i]}));
  series.push(Object.assign({},b,{xAxisIndex:gU,yAxisIndex:gU,data:F_mean[i].map(function(v){return v>10?v:'-';})}));
 });
 [gL,gU].forEach(function(g){
  F_lines.forEach(function(ln,i){
   const d=F_mean[i].map(function(m,k){return [k,m,m+F_sd[i][k],i];});
   series.push({type:'custom',xAxisIndex:g,yAxisIndex:g,silent:true,z:5,clip:true,data:d,
    renderItem:function(p,api){const k=api.value(0),m=api.value(1),top=api.value(2),si=api.value(3);
     const band=api.size([1,0])[0];const w=band*0.8/5;const off=(-2+si)*w;
     const a=api.coord([k,m]),bb=api.coord([k,top]);const x=a[0]+off;const s=F_sig[si][k];
     const ch=[{type:'line',shape:{x1:x,y1:a[1],x2:x,y2:bb[1]},style:{stroke:'#111',lineWidth:2.5}},
      {type:'line',shape:{x1:x-5,y1:bb[1],x2:x+5,y2:bb[1]},style:{stroke:'#111',lineWidth:2.5}}];
     if(s)ch.push({type:'text',x:x,y:bb[1]-2,style:{text:s,fontSize:20,fontFamily:FONT,fill:'#222',align:'center',verticalAlign:'middle',textAlign:'center',textVerticalAlign:'middle'}});
     return {type:'group',children:ch};}});
  });
 });
 addLines(gL,'h',[0],{stroke:'#000',lineWidth:4},10,[7.5,0]);
 graphic.push({type:'line',silent:true,z:120,shape:{x1:84,y1:2449,x2:100,y2:2439},style:{stroke:'#000',lineWidth:3.5}});
 graphic.push({type:'line',silent:true,z:120,shape:{x1:84,y1:2457,x2:100,y2:2447},style:{stroke:'#000',lineWidth:3.5}});
 T(41.5,2444,'Relative mRNA expression',26,{rot:Math.PI/2});
 T(346,2696,'Gene',27);
 T(9,2223,'F',52,{bold:true,align:'left',va:'top'});
})();
// ================= PANEL G & H =================
function ghPanel(l,t,w,h,cats,violins,vcols,ptsGroups,pcols,xMargin,xfs){
 const g=addGrid(l,t,w,h,discAxis(0.4,4.6,[1,2,3,4],cats,{fs:xfs,margin:xMargin}),
  discAxis(-7.04,h>404?4.595:4.53,GH_yTicks,GH_yTicks.map(function(v){return v.toFixed(1).replace('-','\u2212');}),{fs:21,margin:8}));
 const gl={stroke:'#d2d2d2',lineWidth:1.2,lineDash:[5,4]};
 addLines(g,'h',GH_yTicks,gl,1);addLines(g,'v',[1,2,3,4],gl,1);
 ptsGroups.forEach(function(pts,i){addPts(g,pts,pcols[i],11,3,0.9);});
 violins.forEach(function(v,i){addViolin(g,i+1,v,vcols[i],'#555',3,4);});
 frame(l,t,w,h,2.5);
 return g;
}
const GH_pointColors=['#F8566E','#6CCB0A','#3CEFA8','#9E7CF8'];
(function(){
 ghPanel(718.4,2250.2,436.5,402.6,G_genes,G_violins,['rgba(255,160,70,0.78)','rgba(130,220,250,0.78)','rgba(255,70,255,0.8)','rgba(175,245,80,0.8)'],G_pts,GH_pointColors,12,22);
 graphic.push({type:'rect',silent:true,z:40,shape:{x:719.5,y:2505.6,width:143,height:146},
  style:{fill:{type:'linear',x:0,y:0,x2:1,y2:0,colorStops:[{offset:0,color:'rgba(170,210,250,0.95)'},{offset:1,color:'rgba(255,255,255,0.2)'}]}}});
 T(735,2520,'Cell line',22,{align:'left'});
 const ys=[2552.6,2578.8,2604,2628.6];
 G_cellLines.forEach(function(n,i){graphic.push({type:'circle',silent:true,z:105,shape:{cx:730,cy:ys[i],r:5.5},style:{fill:GH_pointColors[i]}});T(740.6,ys[i],n,20,{align:'left'});});
 T(642.5,2448.5,'{a|log}{b|2}{a|FC}',26,{rot:Math.PI/2,rich:subRich(26)});
 T(934.8,2702,'Gene',27);
 T(612,2220,'G',52,{bold:true,align:'left',va:'top'});
})();
(function(){
 ghPanel(1285,2246.2,424.3,404.9,H_cellLines,H_violins,['rgba(255,160,70,0.78)','rgba(80,240,240,0.8)','rgba(255,70,255,0.8)','rgba(175,245,80,0.8)'],H_pts,GH_pointColors,6,21);
 graphic.push({type:'rect',silent:true,z:40,shape:{x:1497,y:2248.6,width:210,height:71.4},
  style:{fill:{type:'linear',x:0,y:0,x2:1,y2:0,colorStops:[{offset:0,color:'rgba(185,215,248,0.95)'},{offset:1,color:'rgba(215,232,250,0.9)'}]}}});
 T(1601,2259.6,'gene',22);
 const pos=[[1512.3,2280.5],[1512.3,2306.7],[1619,2280.5],[1619,2306.7]];
 H_genes.forEach(function(n,i){graphic.push({type:'circle',silent:true,z:105,shape:{cx:pos[i][0],cy:pos[i][1],r:5.5},style:{fill:GH_pointColors[i]}});T(pos[i][0]+10.4,pos[i][1],n,19.5,{align:'left'});});
 T(1217.9,2448.5,'{a|log}{b|2}{a|FC}',26,{rot:Math.PI/2,rich:subRich(26)});
 T(1479.6,2697,'Cell line',27);
 T(1199,2219,'H',52,{bold:true,align:'left',va:'top'});
})();

// ================= OPTION =================
const chart=echarts.init(document.getElementById('c'),null,{renderer:'canvas'});
chart.setOption({
 animation:false,backgroundColor:'#fff',textStyle:{fontFamily:FONT},
 grid:grids,xAxis:xAxes,yAxis:yAxes,series:series,graphic:{elements:graphic},
 legend:[
  {data:['positive','negative','not significant'],orient:'vertical',left:968,top:1430,padding:0,itemWidth:17.5,itemHeight:15.5,itemGap:1.5,icon:'rect',selectedMode:false,
   formatter:function(n){return n==='not significant'?'not':n;},textStyle:{fontSize:18,color:'#000',fontFamily:FONT}},
  {data:['Activation','Inhibition','None'],orient:'horizontal',left:1164.8,top:935,padding:0,itemWidth:27,itemHeight:27,itemGap:45,icon:'rect',selectedMode:false,
   textStyle:{fontSize:22,color:'#000',fontFamily:FONT}},
  {data:F_lines,orient:'vertical',left:117.4,top:2251.7,padding:0,itemWidth:20,itemHeight:21.7,itemGap:4.2,icon:'rect',selectedMode:false,
   itemStyle:{borderColor:'#444',borderWidth:1},textStyle:{fontSize:22,color:'#000',fontFamily:FONT}}],
 visualMap:[{type:'continuous',seriesIndex:hmSeriesIndex,min:-0.456,max:0.74,calculable:false,show:true,left:889.5,top:1427,
  itemWidth:22.5,itemHeight:116.5,padding:0,text:null,hoverLink:false,
  inRange:{color:['#6060FF','#8A84FC','#B2ACFA','#DCD8FA','#FFF8F8','#FFD0D6','#FFB0BA','#FF8A96','#FF6270','#FF3C46','#FF1212']}}]
});
</script></body></html>
